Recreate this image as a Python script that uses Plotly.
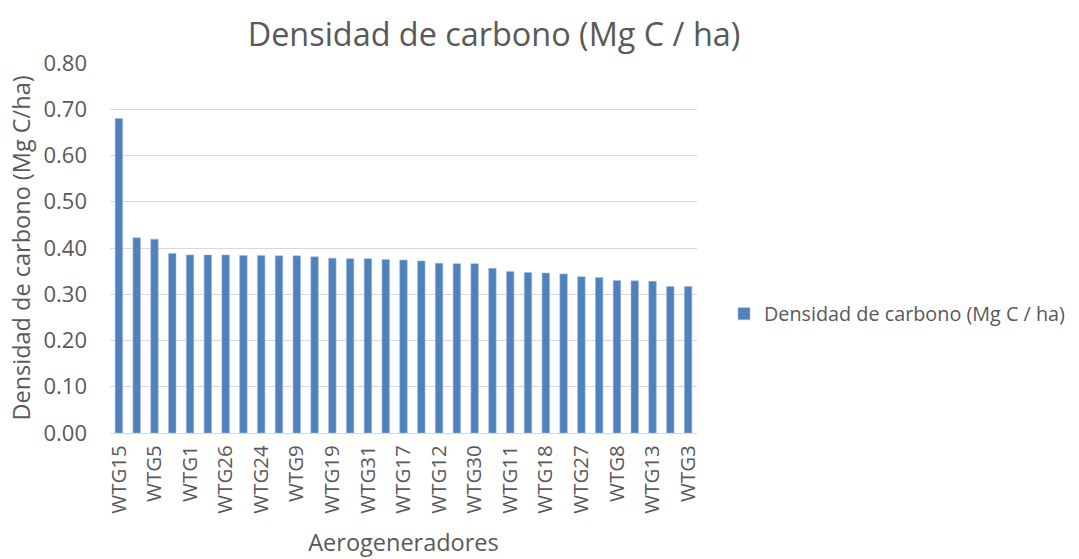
import plotly.graph_objects as go

categories = ["WTG15", "WTG2", "WTG5", "WTG4", "WTG1", "WTG6", "WTG26", "WTG7", "WTG24", "WTG10",
              "WTG9", "WTG14", "WTG19", "WTG16", "WTG31", "WTG20", "WTG17", "WTG21", "WTG12", "WTG22",
              "WTG30", "WTG23", "WTG11", "WTG25", "WTG18", "WTG28", "WTG27", "WTG29", "WTG8", "WTG32",
              "WTG13", "WTG33", "WTG3"]
values = [0.680, 0.422, 0.419, 0.388, 0.385, 0.385, 0.385, 0.384, 0.384, 0.383,
          0.383, 0.381, 0.378, 0.377, 0.377, 0.375, 0.374, 0.372, 0.367, 0.366,
          0.366, 0.356, 0.349, 0.347, 0.346, 0.344, 0.338, 0.336, 0.330, 0.329,
          0.328, 0.317, 0.317]
series_name = "Densidad de carbono (Mg C / ha)"
y_ticks = [0, 0.1, 0.2, 0.3, 0.4, 0.5, 0.6, 0.7, 0.8]

FONT = "Open Sans"
GREY = "#595959"

fig = go.Figure()
fig.add_trace(go.Bar(
    x=categories, y=values, name=series_name,
    marker=dict(color="#4F81BD", line=dict(color="#9DB9DE", width=0.6)),
    showlegend=True,
))

fig.update_layout(
    width=1079, height=559,
    margin=dict(l=110, r=382, t=63, b=126, pad=0, autoexpand=False),
    paper_bgcolor="white", plot_bgcolor="white",
    font=dict(family=FONT, color=GREY, size=16),
    title=dict(text="Densidad de carbono (Mg C / ha)", x=494/1079, xanchor="center",
               y=1 - 35/559, yanchor="middle", font=dict(size=32.4, color=GREY, family=FONT)),
    bargap=0.58,
    legend=dict(x=1.046, y=0.322, xanchor="left", yanchor="middle",
                font=dict(size=19.8, color=GREY, family=FONT), itemwidth=30,
                bgcolor="rgba(0,0,0,0)"),
)
fig.update_xaxes(
    type="category", automargin=False,
    tickmode="array", tickvals=categories[::2], ticktext=categories[::2],
    tickangle=-90, tickfont=dict(size=20.5, color=GREY),
    showgrid=False, showline=True, linecolor="#D9D9D9", linewidth=1,
    ticks="", ticklabelstandoff=3,
    title=dict(text="Aerogeneradores", font=dict(size=23.5, color=GREY), standoff=21),
)
fig.update_yaxes(
    range=[0, 0.8], tickmode="array", tickvals=y_ticks, automargin=False,
    ticktext=[f"{v:.2f}" for v in y_ticks],
    tickfont=dict(size=22, color=GREY),
    showgrid=True, gridcolor="#D9D9D9", gridwidth=1,
    zeroline=False, showline=False, ticks="", ticklabelstandoff=22,
    title=dict(text="Densidad de carbono (Mg C/ha)", font=dict(size=23.5, color=GREY), standoff=6),
)

fig.write_html("out.html", config={"displayModeBar": False},
               post_script="document.body.style.margin='0';")
